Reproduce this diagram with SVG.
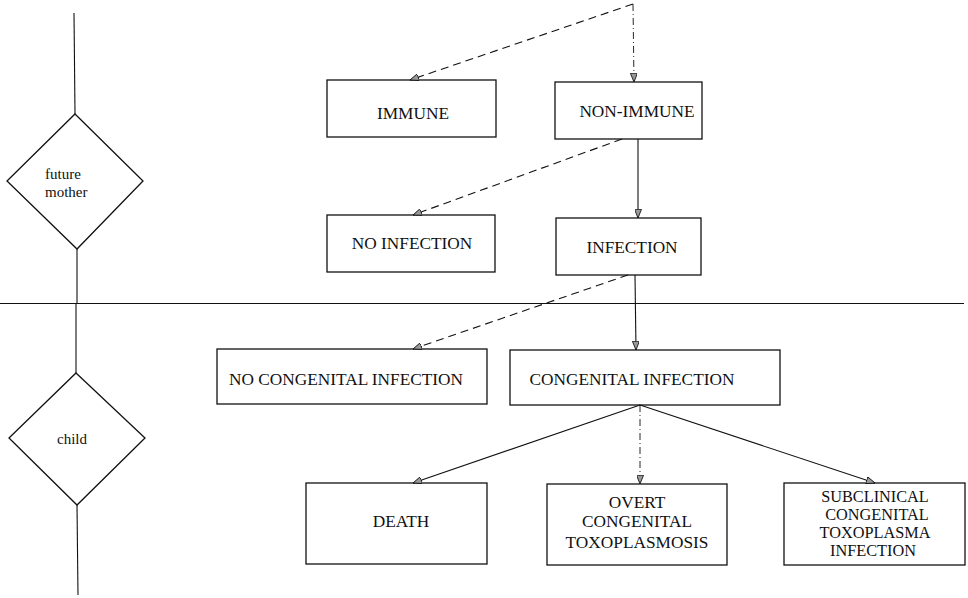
<svg xmlns="http://www.w3.org/2000/svg" width="968" height="598" viewBox="0 0 968 598">
<style>
.box{fill:#fff;stroke:#111;stroke-width:1.3}
.lbl{font-family:"Liberation Serif","Times New Roman",serif;font-size:17.3px;fill:#111;text-anchor:middle}
.tight{font-size:16.3px}
.sm{font-family:"Liberation Serif","Times New Roman",serif;font-size:15px;fill:#111}
.ln{fill:none;stroke:#111;stroke-width:1.1}
.dash{stroke-dasharray:8 5}
.dd{stroke-dasharray:7 3 1 3;stroke-width:0.9}
</style>
<defs>
<marker id="ah" viewBox="0 0 10 8" refX="10" refY="4" markerWidth="9" markerHeight="7" markerUnits="userSpaceOnUse" orient="auto">
<path d="M0,0 L10,4 L0,8 Z" fill="#999" stroke="#111" stroke-width="1"/>
</marker>
</defs>
<g id="axis">
<line class="ln" x1="74" y1="13" x2="75" y2="114"/>
<line class="ln" x1="77" y1="249" x2="77" y2="304"/>
<line class="ln" x1="0" y1="303.5" x2="964" y2="303.5"/>
<line class="ln" x1="76" y1="304" x2="76" y2="373"/>
<line class="ln" x1="77" y1="505" x2="78" y2="595"/>
</g>
<g id="future-mother">
<polygon class="box" points="75,114 143,181 77,249 7,181"/>
<text class="sm" x="45" y="179">future</text>
<text class="sm" x="45" y="197">mother</text>
</g>
<g id="child">
<polygon class="box" points="76,373 145,438 77,505 9,438"/>
<text class="sm" x="57" y="444">child</text>
</g>
<g id="immune">
<rect class="box" x="327" y="80" width="169" height="57"/>
<text class="lbl" x="413" y="119">IMMUNE</text>
</g>
<g id="non-immune">
<rect class="box" x="555" y="82" width="147" height="57"/>
<text class="lbl" x="637" y="117">NON-IMMUNE</text>
</g>
<g id="no-infection">
<rect class="box" x="327" y="215" width="168" height="57"/>
<text class="lbl" x="412" y="249">NO INFECTION</text>
</g>
<g id="infection">
<rect class="box" x="556" y="218" width="145" height="57"/>
<text class="lbl" x="632" y="253">INFECTION</text>
</g>
<g id="no-congenital-infection">
<rect class="box" x="217" y="349" width="270" height="55"/>
<text class="lbl" x="346" y="385">NO CONGENITAL INFECTION</text>
</g>
<g id="congenital-infection">
<rect class="box" x="510" y="350" width="270" height="55"/>
<text class="lbl" x="632" y="385">CONGENITAL INFECTION</text>
</g>
<g id="death">
<rect class="box" x="306" y="483" width="181" height="81"/>
<text class="lbl" x="401" y="527">DEATH</text>
</g>
<g id="overt">
<rect class="box" x="547" y="484" width="180" height="81"/>
<text class="lbl" x="637" y="508">OVERT</text>
<text class="lbl" x="637" y="527">CONGENITAL</text>
<text class="lbl" x="637" y="548">TOXOPLASMOSIS</text>
</g>
<g id="subclinical">
<rect class="box" x="784" y="483" width="181" height="82"/>
<text class="lbl tight" x="875" y="502">SUBCLINICAL</text>
<text class="lbl tight" x="877" y="520">CONGENITAL</text>
<text class="lbl tight" x="875" y="538">TOXOPLASMA</text>
<text class="lbl tight" x="873" y="556">INFECTION</text>
</g>
<g id="connectors">
<path class="ln dash" d="M633,4 L410,80" marker-end="url(#ah)"/>
<path class="ln dd" d="M633,4 L634,82" marker-end="url(#ah)"/>
<path class="ln dash" d="M622,139 L413,215" marker-end="url(#ah)"/>
<path class="ln" d="M638,139 L638,218" marker-end="url(#ah)"/>
<path class="ln dash" d="M628,275 L413,349" marker-end="url(#ah)"/>
<path class="ln" d="M635,275 L636,350" marker-end="url(#ah)"/>
<path class="ln" d="M640,405 L413,483" marker-end="url(#ah)"/>
<path class="ln dd" d="M640,405 L640,484" marker-end="url(#ah)"/>
<path class="ln" d="M640,405 L875,483" marker-end="url(#ah)"/>
</g>
</svg>
